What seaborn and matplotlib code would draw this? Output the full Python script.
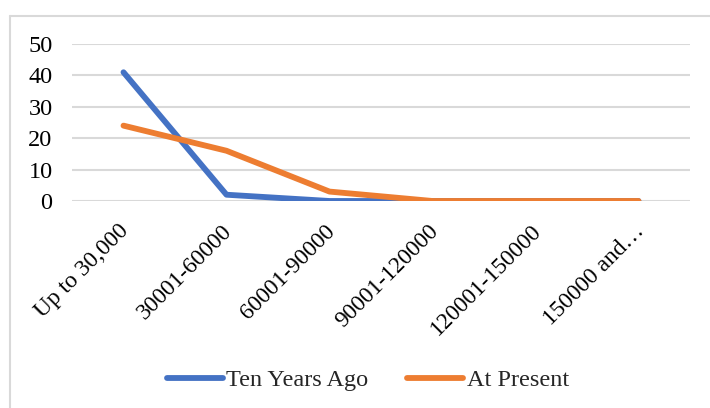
import matplotlib
matplotlib.use("Agg")
import matplotlib.pyplot as plt
from matplotlib.lines import Line2D
from matplotlib.transforms import ScaledTranslation
import seaborn as sns
import pandas as pd

categories = ["Up to 30,000", "30001-60000", "60001-90000", "90001-120000", "120001-150000", "150000 and\u2026"]
ten_years_ago = [41, 2, 0, 0, 0, 0]
at_present = [24, 16, 3, 0, 0, 0]
series_names = ["Ten Years Ago", "At Present"]
colors = ["#4472C4", "#ED7D31"]

sns.set_theme(style="white")
plt.rcParams['font.family'] = ['Liberation Serif', 'DejaVu Serif']

rows = []
for i, c in enumerate(categories):
    rows.append({"x": i, "cat": c, "value": ten_years_ago[i], "series": series_names[0]})
for i, c in enumerate(categories):
    rows.append({"x": i, "cat": c, "value": at_present[i], "series": series_names[1]})
df = pd.DataFrame(rows)

fig = plt.figure(figsize=(7.1, 4.08), dpi=100)
ax = fig.add_axes([72/710, 1-201/408, 618/710, 157/408])

sns.lineplot(data=df, x="x", y="value", hue="series", palette=colors,
             linewidth=4.2, ax=ax, legend=False, sort=False)
for ln in ax.lines:
    ln.set_solid_capstyle("round")
    ln.set_solid_joinstyle("round")
    ln.set_zorder(3)

ax.set_xlim(-0.5, len(categories) - 0.5)
ax.set_ylim(0, 50)
ax.set_yticks([0, 10, 20, 30, 40, 50])
ax.set_xticks(range(len(categories)))
ax.set_xticklabels(categories, rotation=45, ha="right", va="top", rotation_mode="anchor")
ax.set_xlabel("")
ax.set_ylabel("")
ax.yaxis.grid(True, color="#D9D9D9", linewidth=1.5)
ax.set_axisbelow(True)
for s in ax.spines.values():
    s.set_visible(False)
ax.tick_params(axis="y", length=0, pad=14, labelsize=17.5, labelcolor="black")
ax.tick_params(axis="x", length=0, pad=14, labelsize=16.8, labelcolor="black")
offset = ScaledTranslation(-5/100, 0, fig.dpi_scale_trans)
for lbl in ax.get_xticklabels():
    lbl.set_transform(lbl.get_transform() + offset)

handles = [Line2D([0], [0], color=colors[0], lw=4.2, solid_capstyle="round"),
           Line2D([0], [0], color=colors[1], lw=4.2, solid_capstyle="round")]
fig.legend(handles, series_names, loc="center", bbox_to_anchor=(368/710, 1-380/408),
           ncol=2, frameon=False, fontsize=17.5, handlelength=2.3, handletextpad=0.15,
           columnspacing=1.6)

# chart border (top and left visible)
fig.add_artist(Line2D([10/710, 1], [1-16/408, 1-16/408], transform=fig.transFigure, color="#D9D9D9", lw=1.5))
fig.add_artist(Line2D([10/710, 10/710], [0, 1-16/408], transform=fig.transFigure, color="#D9D9D9", lw=1.5))

fig.savefig("out.png", dpi=100)
